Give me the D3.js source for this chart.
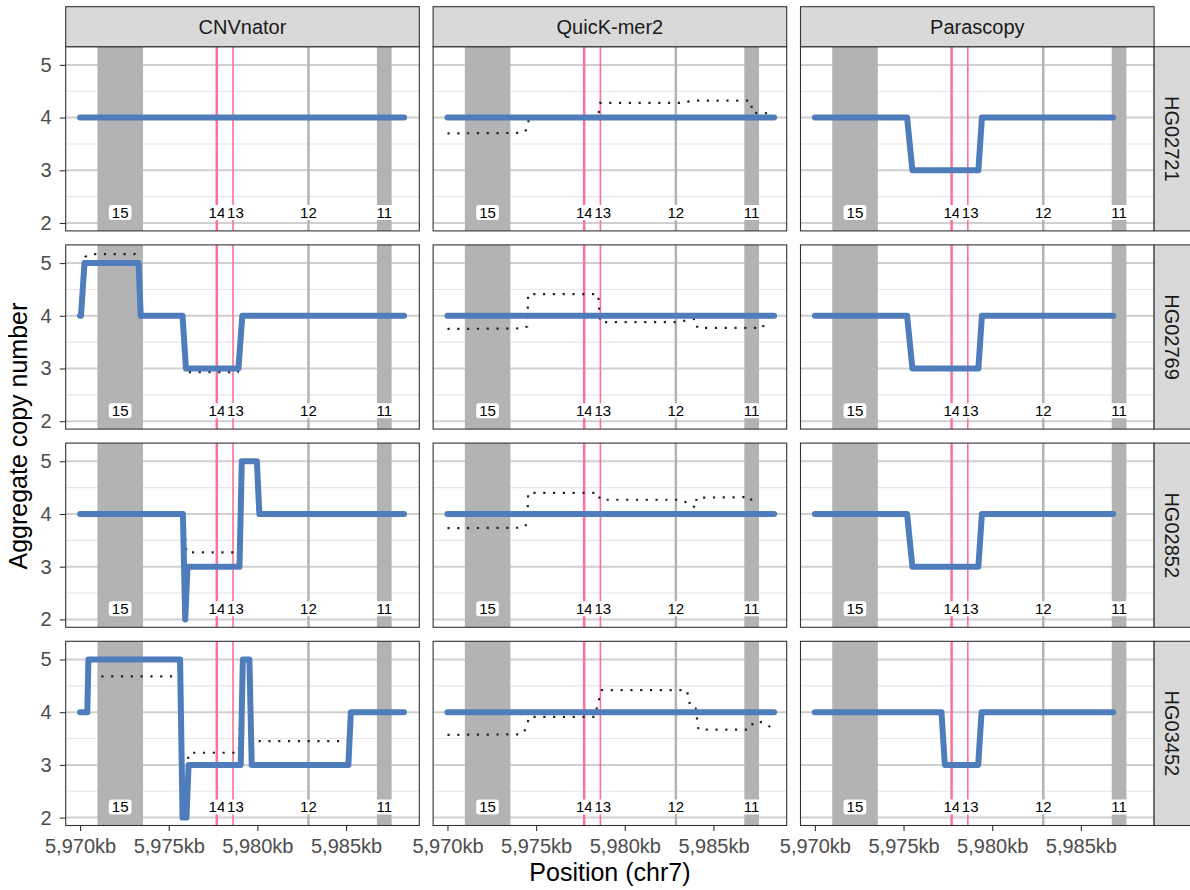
<!DOCTYPE html>
<html>
<head>
<meta charset="utf-8">
<script src="https://cdn.jsdelivr.net/npm/d3@7"></script>
<style>
  html, body { margin: 0; padding: 0; background: #fff; }
  svg text { font-family: "Liberation Sans", Arial, Helvetica, sans-serif; }
</style>
</head>
<body>
<svg id="chart" width="1190" height="890"></svg>
<script>
// Facet columns (methods) and rows (samples)
const methods = ["CNVnator", "QuicK-mer2", "Parascopy"];
const samples = ["HG02721", "HG02769", "HG02852", "HG03452"];

// Axis ticks (position in kb, copy number)
const xTickValues = [5970, 5975, 5980, 5985];
const yTickValues = [2, 3, 4, 5];
const yMinorValues = [2.5, 3.5, 4.5];

// Gene annotations (kb)
const geneNames  = ["15", "14", "13", "12", "11"];
const geneStarts = [5970.98, 5977.64, 5978.58, 5982.81, 5986.74];
const geneEnds   = [5973.55, 5977.78, 5978.66, 5982.95, 5987.57];
const geneLabelX = [5972.26, 5977.72, 5978.76, 5982.88, 5987.15];
const geneHighlighted = [false, true, true, false, false];
const geneLabelY = 2.2;

// Aggregate copy number segments: [start kb, end kb, copy number]
const cnvnatorSegments = [
  [[5970.0, 5988.27, 4]],
  [[5970.0, 5970.05, 4], [5970.25, 5973.3, 5], [5973.42, 5975.78, 4], [5975.97, 5978.93, 3], [5979.15, 5988.27, 4]],
  [[5970.0, 5975.8, 4], [5975.93, 5975.93, 2], [5976.06, 5978.99, 3], [5979.12, 5979.97, 5], [5980.11, 5988.27, 4]],
  [[5970.0, 5970.41, 4], [5970.47, 5975.64, 5], [5975.78, 5976.0, 2], [5976.12, 5979.06, 3], [5979.18, 5979.55, 5], [5979.68, 5985.13, 3], [5985.27, 5988.27, 4]]
];
const quickmerSegments = [
  [[5970.0, 5988.42, 4]],
  [[5970.0, 5988.42, 4]],
  [[5970.0, 5988.42, 4]],
  [[5970.0, 5988.42, 4]]
];
const parascopySegments = [
  [[5970.0, 5975.2, 4], [5975.5, 5979.22, 3], [5979.42, 5986.82, 4]],
  [[5970.0, 5975.2, 4], [5975.5, 5979.22, 3], [5979.42, 5986.82, 4]],
  [[5970.0, 5975.2, 4], [5975.5, 5979.22, 3], [5979.42, 5986.82, 4]],
  [[5970.0, 5977.14, 4], [5977.33, 5979.21, 3], [5979.4, 5986.82, 4]]
];

// Unrounded copy-number estimates: [position kb, copy number]
const cnvnatorRaw = [
  [],
  [[5970.0, 4.0], [5970.3, 5.12], [5970.6, 5.17], [5973.1, 5.17], [5973.25, 5.1], [5973.4, 4.0], [5975.8, 4.0], [5975.95, 2.93], [5978.9, 2.93], [5979.15, 4.0], [5988.2, 4.0]],
  [[5970.0, 4.0], [5975.8, 4.0], [5976.0, 3.27], [5978.95, 3.27], [5979.1, 5.0], [5980.0, 5.0], [5980.1, 4.0], [5988.2, 4.0]],
  [[5971.2, 4.68], [5975.7, 4.68], [5975.75, 2.0], [5976.0, 2.0], [5976.1, 3.18], [5976.2, 3.23], [5978.95, 3.23], [5979.15, 5.0], [5979.6, 5.0], [5979.7, 3.45], [5985.15, 3.45], [5985.25, 4.0], [5988.2, 4.0]]
];
const quickmerRaw = [
  [[5970.0, 3.70], [5974.3, 3.71], [5974.5, 3.79], [5974.6, 4.0], [5978.5, 4.0], [5978.6, 4.28], [5983.4, 4.28], [5983.7, 4.32], [5987.1, 4.32], [5987.2, 4.09], [5988.2, 4.08]],
  [[5970.0, 3.75], [5974.3, 3.76], [5974.5, 3.8], [5974.55, 4.41], [5978.5, 4.41], [5978.6, 3.88], [5983.1, 3.88], [5983.6, 3.93], [5984.0, 3.94], [5984.1, 3.77], [5987.8, 3.77], [5987.9, 4.13]],
  [[5970.0, 3.73], [5974.3, 3.74], [5974.5, 3.82], [5974.55, 4.40], [5978.5, 4.40], [5978.6, 4.27], [5983.2, 4.27], [5984.0, 4.12], [5984.05, 4.31], [5987.1, 4.32], [5987.2, 4.12]],
  [[5970.0, 3.57], [5974.2, 3.58], [5974.45, 3.7], [5974.6, 3.91], [5978.3, 3.91], [5978.55, 4.25], [5978.7, 4.42], [5983.5, 4.42], [5983.7, 4.1], [5984.0, 4.07], [5984.15, 3.67], [5987.05, 3.67], [5987.25, 3.81], [5987.8, 3.81], [5988.2, 3.72]]
];
const parascopyRaw = [[], [], [], []];

const segmentsByMethod = [cnvnatorSegments, quickmerSegments, parascopySegments];
const rawByMethod = [cnvnatorRaw, quickmerRaw, parascopyRaw];

// ---- layout ----
const svg = d3.select("#chart");
svg.append("rect").attr("width", 1190).attr("height", 890).attr("fill", "#fff");

const panelLeft = 65.7, panelW = 353.6, colGap = 13.8;
const panelTop = 46.7, panelH = 184.2, rowGap = 14;
const stripSize = 40;

const x = d3.scaleLinear().domain([5969.19, 5989.13]).range([0, panelW]);
const y = d3.scaleLinear().domain([1.85, 5.345]).range([panelH, 0]);

const colX = c => panelLeft + c * (panelW + colGap);
const rowY = r => panelTop + r * (panelH + rowGap);

const blue = "#4f7dbb", pink = "#ff6f9c", geneGray = "#b3b3b3";

const stepLine = d3.line().x(d => x(d[0])).y(d => y(d[1]));

methods.forEach((m, c) => {
  samples.forEach((s, r) => {
    const g = svg.append("g").attr("transform", `translate(${colX(c)},${rowY(r)})`);
    g.append("rect").attr("width", panelW).attr("height", panelH).attr("fill", "#fff");

    // grid
    g.selectAll("line.minor").data(yMinorValues).join("line")
      .attr("x1", 0).attr("x2", panelW)
      .attr("y1", d => y(d)).attr("y2", d => y(d))
      .attr("stroke", "#e6e6e6").attr("stroke-width", 1.1);
    g.selectAll("line.major").data(yTickValues).join("line")
      .attr("x1", 0).attr("x2", panelW)
      .attr("y1", d => y(d)).attr("y2", d => y(d))
      .attr("stroke", "#d0d0d0").attr("stroke-width", 2);

    // genes
    g.selectAll("rect.gene").data(geneNames).join("rect")
      .attr("x", (d, i) => x(geneStarts[i]))
      .attr("width", (d, i) => Math.max(x(geneEnds[i]) - x(geneStarts[i]), 1.6))
      .attr("y", 0).attr("height", panelH)
      .attr("fill", (d, i) => geneHighlighted[i] ? pink : geneGray);

    // gene labels
    geneNames.forEach((name, i) => {
      const lg = g.append("g").attr("transform", `translate(${x(geneLabelX[i])},${y(geneLabelY)})`);
      const box = lg.append("rect").attr("fill", "#fff").attr("rx", 3).attr("ry", 3);
      const t = lg.append("text").text(name)
        .attr("text-anchor", "middle").attr("dy", "0.36em")
        .attr("font-size", 15).attr("fill", "#000");
      const w = t.node().getComputedTextLength() + 6;
      box.attr("x", -w / 2).attr("y", -7.5).attr("width", w).attr("height", 15);
    });

    // raw estimates (dotted)
    const raw = rawByMethod[c][r];
    if (raw.length) {
      g.append("path").attr("d", stepLine(raw))
        .attr("fill", "none").attr("stroke", "#222")
        .attr("stroke-width", 2.2).attr("stroke-dasharray", "2.2 7.6");
    }

    // aggregate copy number
    const pts = [];
    segmentsByMethod[c][r].forEach(sg => { pts.push([sg[0], sg[2]]); pts.push([sg[1], sg[2]]); });
    g.append("path").attr("d", stepLine(pts))
      .attr("fill", "none").attr("stroke", blue)
      .attr("stroke-width", 6).attr("stroke-linecap", "round").attr("stroke-linejoin", "round");

    // border
    g.append("rect").attr("width", panelW).attr("height", panelH)
      .attr("fill", "none").attr("stroke", "#333").attr("stroke-width", 1.1);

    // y axis on the first column
    if (c === 0) {
      const ax = g.append("g").call(d3.axisLeft(y).tickValues(yTickValues).tickSize(6).tickPadding(8).tickFormat(d3.format("d")));
      ax.select(".domain").remove();
      ax.selectAll(".tick line").attr("stroke", "#333").attr("stroke-width", 1.1);
      ax.selectAll(".tick text").attr("font-size", 20).attr("fill", "#4d4d4d")
        .style("font-family", "'Liberation Sans', Arial, sans-serif");
    }
    // x axis on the last row
    if (r === samples.length - 1) {
      const ax = g.append("g").attr("transform", `translate(0,${panelH})`)
        .call(d3.axisBottom(x).tickValues(xTickValues).tickSize(5.5).tickPadding(8)
          .tickFormat(d => d3.format(",")(d) + "kb"));
      ax.select(".domain").remove();
      ax.selectAll(".tick line").attr("stroke", "#333").attr("stroke-width", 1.1);
      ax.selectAll(".tick text").attr("font-size", 20).attr("fill", "#4d4d4d")
        .style("font-family", "'Liberation Sans', Arial, sans-serif");
    }
  });
});

// top strips
methods.forEach((m, c) => {
  const g = svg.append("g").attr("transform", `translate(${colX(c)},${panelTop - stripSize})`);
  g.append("rect").attr("width", panelW).attr("height", stripSize)
    .attr("fill", "#d9d9d9").attr("stroke", "#333").attr("stroke-width", 1.1);
  g.append("text").text(m).attr("x", panelW / 2).attr("y", stripSize / 2).attr("dy", "0.35em")
    .attr("text-anchor", "middle").attr("font-size", 20).attr("fill", "#1a1a1a");
});

// right strips
samples.forEach((s, r) => {
  const sx = colX(methods.length - 1) + panelW;
  const g = svg.append("g").attr("transform", `translate(${sx},${rowY(r)})`);
  g.append("rect").attr("width", stripSize).attr("height", panelH)
    .attr("fill", "#d9d9d9").attr("stroke", "#333").attr("stroke-width", 1.1);
  g.append("text").text(s)
    .attr("transform", `translate(${stripSize / 2 - 2},${panelH / 2}) rotate(90)`)
    .attr("dy", "0.35em").attr("text-anchor", "middle").attr("font-size", 20).attr("fill", "#1a1a1a");
});

// axis titles
const plotMidY = (panelTop + rowY(samples.length - 1) + panelH) / 2;
svg.append("text").text("Aggregate copy number")
  .attr("transform", `translate(27,${plotMidY}) rotate(-90)`)
  .attr("text-anchor", "middle").attr("font-size", 25).attr("fill", "#000");
const plotMidX = (panelLeft + colX(methods.length - 1) + panelW) / 2;
svg.append("text").text("Position (chr7)")
  .attr("x", plotMidX).attr("y", 881)
  .attr("text-anchor", "middle").attr("font-size", 25).attr("fill", "#000");
</script>
</body>
</html>
